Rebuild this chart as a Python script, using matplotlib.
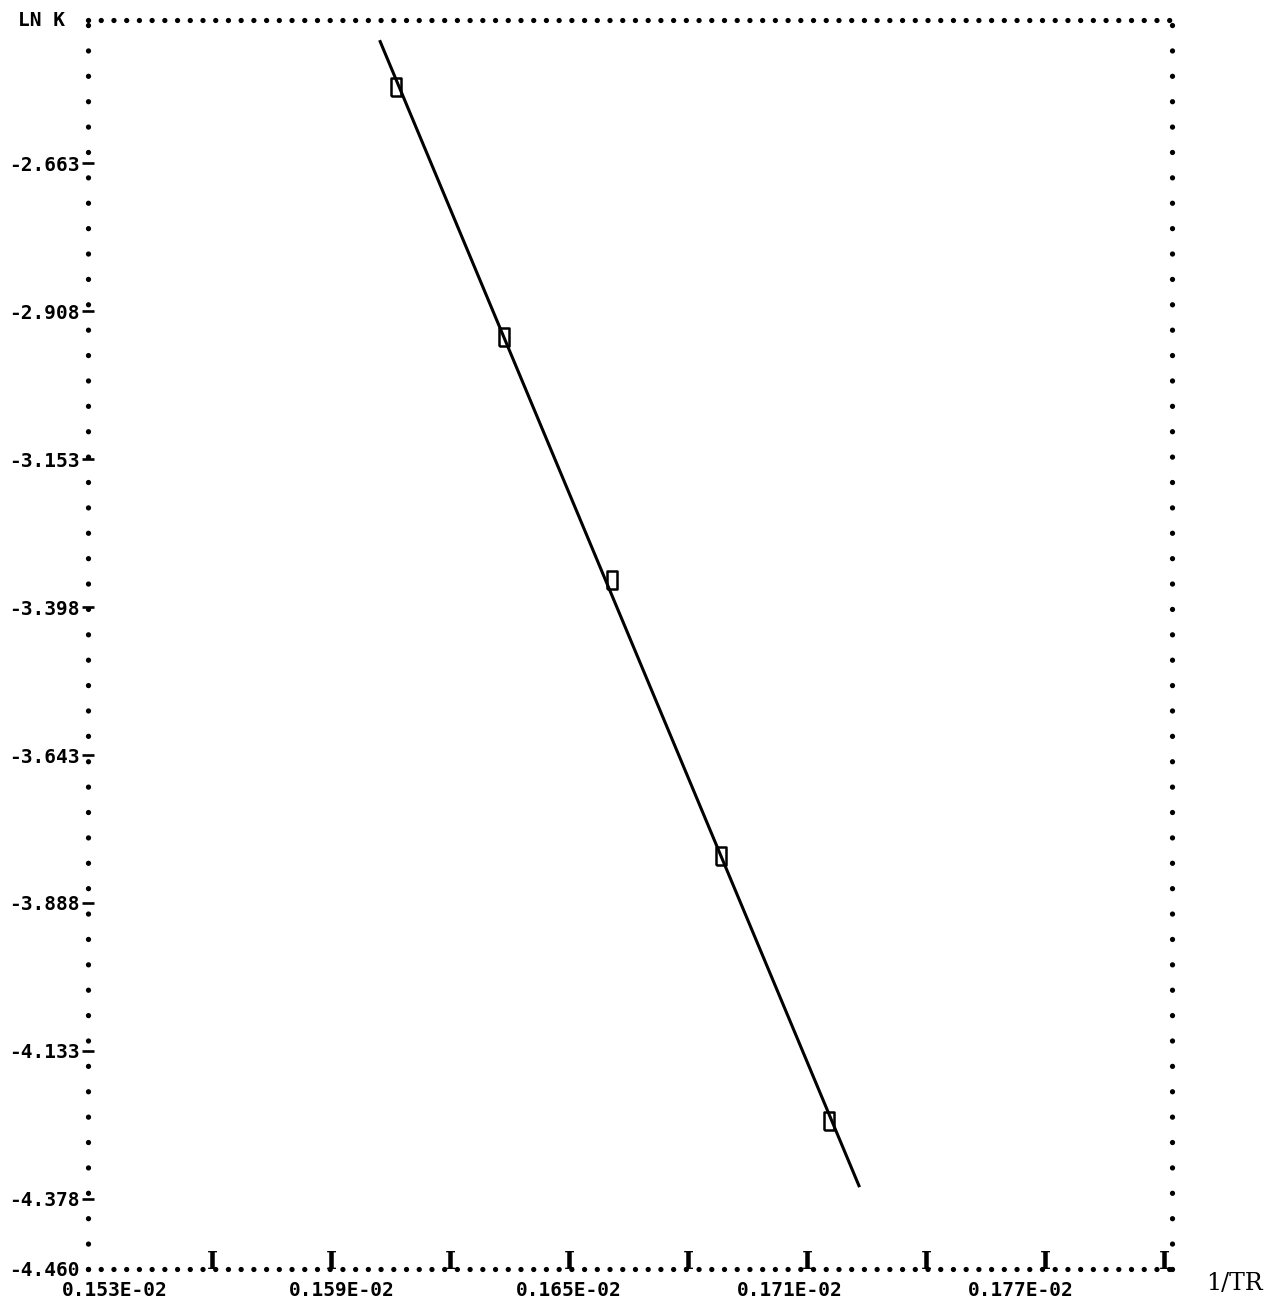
import matplotlib.pyplot as plt
import numpy as np
from matplotlib.path import Path
from matplotlib.transforms import ScaledTranslation

# data (1/TR, LN K)
inv_t = [0.0016064, 0.0016336, 0.0016608, 0.0016883, 0.0017155]
ln_k = [-2.537, -2.951, -3.354, -3.810, -4.249]
fit_range = [0.0016024, 0.0017231]

y_ticks = [-2.663, -2.908, -3.153, -3.398, -3.643, -3.888, -4.133, -4.378]
y_bottom = -4.494
y_bottom_label = '-4.460'
y_top = -2.426
x_ticks = [0.00153, 0.00159, 0.00165, 0.00171, 0.00177]
x_minor = [0.00156, 0.00159, 0.00162, 0.00165, 0.00168, 0.00171, 0.00174, 0.00177, 0.00180]
x_left, x_right = 0.00152874, 0.00180202

mono = 'DejaVu Sans Mono'

fig = plt.figure(figsize=(12.78, 13.04), dpi=100)
ax = fig.add_axes([88/1278, 1 - 1269/1304, (1172-88)/1278, (1269-20)/1304])
ax.set_xlim(x_left, x_right)
ax.set_ylim(y_bottom, y_top)

# fitted straight line
coef = np.polyfit(inv_t, ln_k, 1)
fx = np.array(fit_range)
ax.plot(fx, np.polyval(coef, fx), color='black', lw=2.2, zorder=3)

# tall open box markers, like the printer's "0"
box = Path([(-0.28, -0.5), (0.28, -0.5), (0.28, 0.5), (-0.28, 0.5), (-0.28, -0.5)])
ax.plot(inv_t, ln_k, ls='none', marker=box, ms=13.5, mfc='none', mec='black', mew=1.8, zorder=4)

# dotted frame
for side, gap in [('top', 2.4), ('bottom', 2.4), ('left', 4.8), ('right', 4.8)]:
    sp = ax.spines[side]
    sp.set_linewidth(3.8)
    sp.set_linestyle((0, (0.01, gap)))
    sp.set_capstyle('round')

# y ticks
ax.set_yticks([y_bottom] + y_ticks)
ax.set_yticklabels([y_bottom_label] + ['%.3f' % v for v in y_ticks],
                   fontfamily=mono, fontsize=14, fontweight='bold')
ax.tick_params(axis='y', direction='inout', length=9, width=1.9, pad=1.5)
ax.yaxis.get_major_ticks()[0].tick1line.set_visible(False)

# x ticks (printer puts the labels on its own character grid)
ax.set_xticks(x_ticks)
ax.set_xticklabels(['%.3fE-02' % (v * 100) for v in x_ticks],
                   fontfamily=mono, fontsize=14, fontweight='bold')
ax.tick_params(axis='x', length=0, pad=9)
label_shift = [22, 11, 0, -17, -24]
for lab, dx in zip(ax.get_xticklabels(), label_shift):
    lab.set_transform(lab.get_transform() + ScaledTranslation(dx / 100, 0, fig.dpi_scale_trans))
for xm in x_minor:
    ax.text(xm, 0, 'I', transform=ax.get_xaxis_transform(), ha='center', va='baseline',
            fontfamily='DejaVu Serif', fontsize=17, fontweight='bold')

ax.text(-0.021, 1.0, 'LN K', transform=ax.transAxes, ha='right', va='center',
        fontfamily=mono, fontsize=14, fontweight='bold')
ax.text(1.058, -0.012, '1/TR', transform=ax.transAxes, ha='center', va='center',
        fontfamily='DejaVu Serif', fontsize=17)

fig.savefig('out.png', dpi=100)
